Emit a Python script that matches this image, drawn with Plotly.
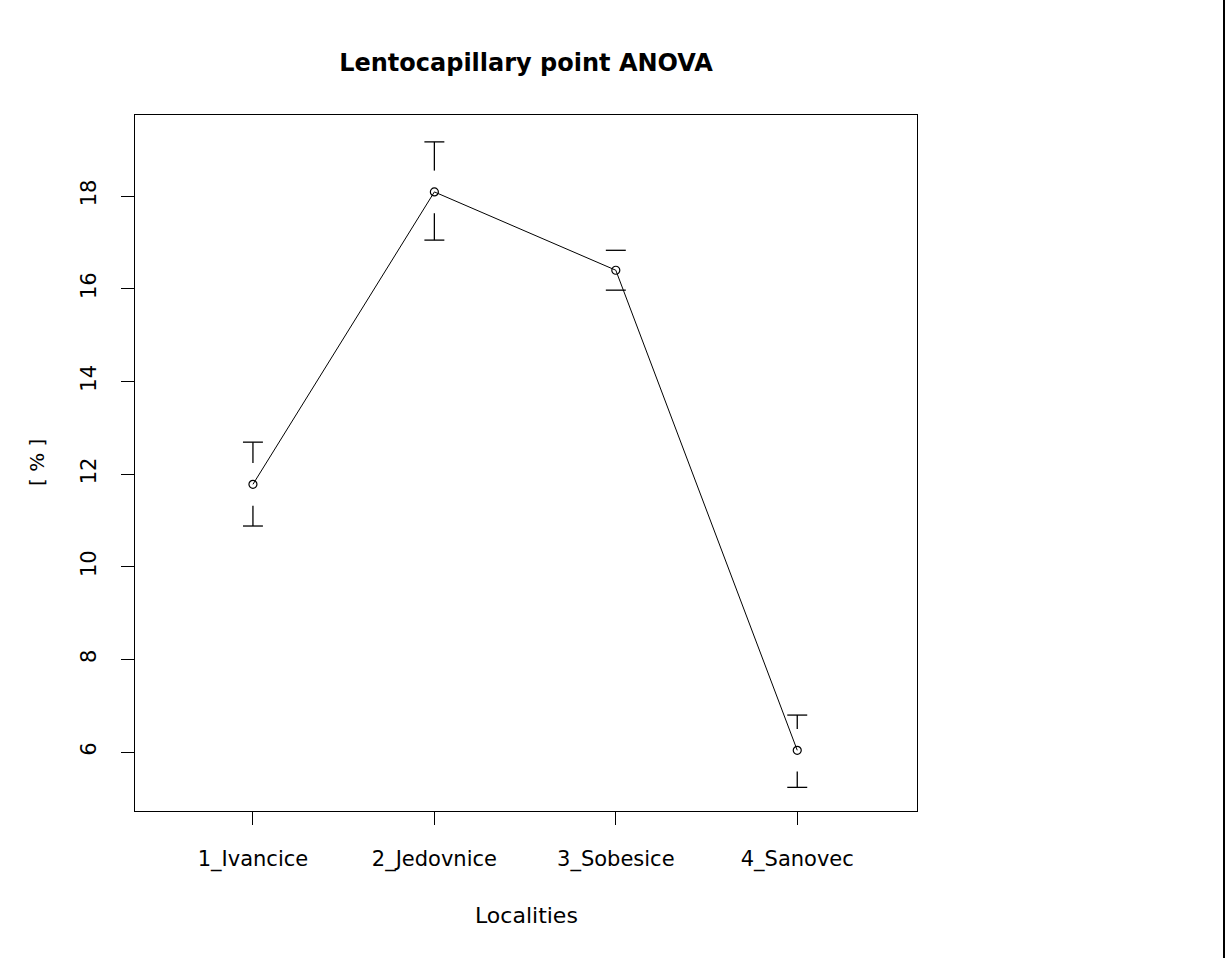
import plotly.graph_objects as go

# ANOVA means with error-bar limits per locality
localities = ["1_Ivancice", "2_Jedovnice", "3_Sobesice", "4_Sanovec"]
means = [11.78, 18.09, 16.40, 6.04]
upper = [12.69, 19.17, 16.83, 6.80]
lower = [10.88, 17.05, 15.97, 5.24]

W, H = 1226, 958
L, R, T, B = 135, 1226 - 917, 115, 958 - 811
PW, PH = W - L - R, H - T - B
FONT = "DejaVu Sans"

xs = list(range(1, len(localities) + 1))
gap = 0.46      # gap around each point, in data units
half_cap = 0.055

# build gapped error bars (plotCI style)
ex, ey = [], []
for x, m, u, lo in zip(xs, means, upper, lower):
    ex += [x - half_cap, x + half_cap, None]
    ey += [u, u, None]
    ex += [x - half_cap, x + half_cap, None]
    ey += [lo, lo, None]
    if u - m > gap:
        ex += [x, x, None]
        ey += [m + gap, u, None]
    if m - lo > gap:
        ex += [x, x, None]
        ey += [m - gap, lo, None]

fig = go.Figure()
fig.add_trace(
    go.Scatter(
        x=ex, y=ey, mode="lines",
        line=dict(color="black", width=1.3),
        hoverinfo="skip", showlegend=False,
    )
)
fig.add_trace(
    go.Scatter(
        x=xs, y=means, mode="lines+markers",
        line=dict(color="black", width=1),
        marker=dict(symbol="circle-open", size=8, color="black", line=dict(width=1.2)),
        showlegend=False,
    )
)

axis_common = dict(
    showgrid=False, zeroline=False, showline=True, mirror=True,
    linecolor="black", linewidth=1.3,
    ticks="outside", ticklen=13, tickwidth=1.3, tickcolor="black",
    tickfont=dict(family=FONT, size=21, color="black"),
)

fig.update_layout(
    width=W, height=H,
    margin=dict(l=L, r=R, t=T, b=B),
    paper_bgcolor="white", plot_bgcolor="white",
    title=dict(
        text="<b>Lentocapillary point ANOVA</b>",
        x=0.5, xref="paper", xanchor="center",
        y=1 - 63 / H, yref="container", yanchor="middle",
        font=dict(family=FONT, size=24, color="black"),
    ),
    xaxis=dict(
        range=[0.35, 4.66], tickvals=xs, ticktext=localities,
        ticklabelstandoff=16, **axis_common,
    ),
    yaxis=dict(
        range=[4.73, 19.75], tickvals=[6, 8, 10, 12, 14, 16, 18],
        tickangle=-90, ticklabelstandoff=16, **axis_common,
    ),
    annotations=[
        dict(
            text="Localities", x=0.5, y=(811 - 915) / PH,
            xref="paper", yref="paper", showarrow=False,
            xanchor="center", yanchor="middle",
            font=dict(family=FONT, size=22, color="black"),
        ),
        dict(
            text="[ % ]", x=(37 - L) / PW, y=0.5,
            xref="paper", yref="paper", showarrow=False, textangle=-90,
            xanchor="center", yanchor="middle",
            font=dict(family=FONT, size=20, color="black"),
        ),
    ],
    shapes=[
        # image border on the right edge
        dict(
            type="line", xref="paper", yref="paper",
            x0=(1224 - L) / PW, x1=(1224 - L) / PW,
            y0=(811 - H) / PH, y1=811 / PH,
            line=dict(color="black", width=2),
        )
    ],
)

# drop the default page margin so the figure fills the window exactly
fig.write_html(
    "out.html",
    config={"displayModeBar": False},
    post_script="document.body.style.margin='0';document.body.style.overflow='hidden';",
)
